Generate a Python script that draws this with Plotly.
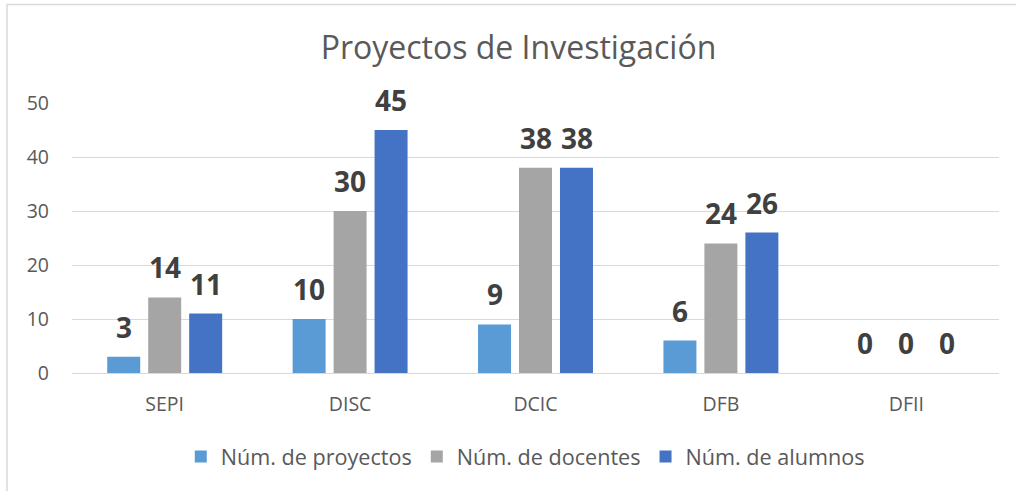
import plotly.graph_objects as go

categories = ["SEPI", "DISC", "DCIC", "DFB", "DFII"]
proyectos = [3, 10, 9, 6, 0]
docentes = [14, 30, 38, 24, 0]
alumnos = [11, 45, 38, 26, 0]
series_names = ["Núm. de proyectos", "Núm. de docentes", "Núm. de alumnos"]
y_ticks = [0, 10, 20, 30, 40, 50]
title_text = "Proyectos de Investigación"

colors = ["#5B9BD5", "#A5A5A5", "#4472C4"]
series = [proyectos, docentes, alumnos]
FONT = "Open Sans"

fig = go.Figure()
for name, vals, col in zip(series_names, series, colors):
    fig.add_trace(go.Bar(x=categories, y=vals, name=name,
                         marker=dict(color=col, line=dict(width=0))))

shifts = [-41, 0, 41]
for vals, dx in zip(series, shifts):
    for c, v in zip(categories, vals):
        fig.add_annotation(x=c, y=v, xref="x", yref="y", text=f"<b>{v}</b>",
                           showarrow=False, xshift=dx, yshift=9,
                           yanchor="bottom", xanchor="center",
                           font=dict(family=FONT, size=28, color="#404040"))

# outer chart border
fig.add_shape(type="rect", xref="paper", yref="paper",
              x0=-0.0701, x1=1.2, y0=-0.6, y1=1.3648,
              line=dict(color="#d9d9d9", width=1.5), fillcolor="rgba(0,0,0,0)",
              layer="below")

fig.update_layout(
    width=1016, height=491, autosize=False,
    margin=dict(l=72, r=17, t=103, b=118),
    paper_bgcolor="white", plot_bgcolor="white",
    barmode="group", bargap=0.337, bargroupgap=0.195,
    font=dict(family=FONT, size=19, color="#595959"),
    title=dict(text=title_text, x=0.5103, xref="container", xanchor="center",
               y=1 - 48 / 491, yref="container", yanchor="middle",
               font=dict(family=FONT, size=32, color="#595959")),
    legend=dict(orientation="h", x=0.517, xanchor="center", xref="container",
                y=1 - 457 / 491, yref="container", yanchor="middle",
                font=dict(family=FONT, size=21.6, color="#595959"),
                bgcolor="rgba(0,0,0,0)"),
    showlegend=True,
)
fig.update_xaxes(showline=True, linecolor="#d9d9d9", linewidth=1, ticks="",
                 showgrid=False, ticklabelstandoff=14,
                 tickfont=dict(family=FONT, size=19.5, color="#595959"))
fig.update_yaxes(range=[0, 50], tickvals=y_ticks, showgrid=True, gridcolor="#d9d9d9",
                 gridwidth=1, zeroline=False, showline=False, ticks="",
                 ticklabelstandoff=22,
                 tickfont=dict(family=FONT, size=19.5, color="#595959"))

fig.write_html("out.html", config={"displayModeBar": False},
               post_script="document.body.style.margin='0';document.body.style.overflow='hidden';")
